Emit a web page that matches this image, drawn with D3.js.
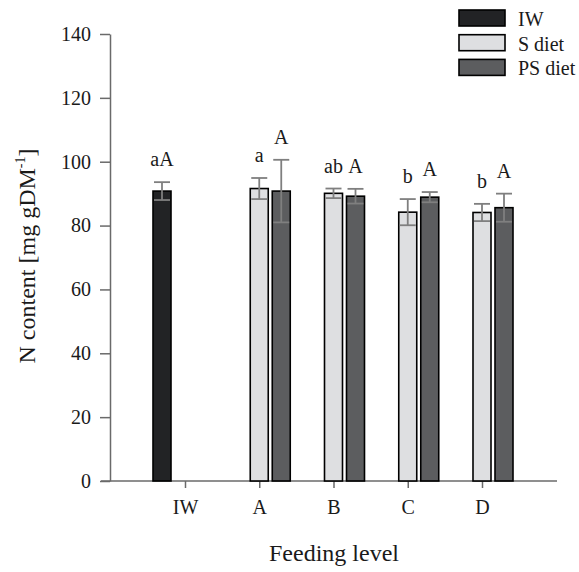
<!DOCTYPE html>
<html>
<head>
<meta charset="utf-8">
<script src="https://cdn.jsdelivr.net/npm/d3@7"></script>
<style>
  body { margin: 0; background: #fff; }
  text { font-family: "Liberation Serif", "Times New Roman", serif; fill: #1a1a1a; }
</style>
</head>
<body>
<script>
// data
var groups = ["IW", "A", "B", "C", "D"];
var series = ["IW", "S diet", "PS diet"];
var iwMean = [90.8];
var iwErr = [2.8];
var iwLetters = ["aA"];
var sMean = [null, 91.6, 90.1, 84.2, 84.1];
var sErr = [null, 3.3, 1.5, 4.1, 2.7];
var sLetters = [null, "a", "ab", "b", "b"];
var psMean = [null, 90.8, 89.2, 88.9, 85.6];
var psErr = [null, 9.8, 2.3, 1.6, 4.4];
var psLetters = [null, "A", "A", "A", "A"];
var yTicks = [0, 20, 40, 60, 80, 100, 120, 140];

var width = 579, height = 572;
var colors = {"IW": "#222325", "S diet": "#dedfe1", "PS diet": "#5c5d5f"};

var svg = d3.select("body").append("svg")
    .attr("width", width).attr("height", height);

var x = d3.scalePoint().domain(groups).range([185, 482]);
var y = d3.scaleLinear().domain([0, 140]).range([481, 34]);
var barW = 18;
// offset of each series from the group tick
var offset = {"IW": -23, "S diet": 0, "PS diet": 22};

// build one row per bar
var rows = [];
rows.push({g: "IW", s: "IW", mean: iwMean[0], err: iwErr[0], letter: iwLetters[0]});
groups.forEach(function(g, i) {
    if (sMean[i] != null) rows.push({g: g, s: "S diet", mean: sMean[i], err: sErr[i], letter: sLetters[i]});
    if (psMean[i] != null) rows.push({g: g, s: "PS diet", mean: psMean[i], err: psErr[i], letter: psLetters[i]});
});
function cx(d) { return x(d.g) + offset[d.s]; }

// axes
var yAxis = svg.append("g")
    .attr("transform", "translate(110,0)")
    .call(d3.axisLeft(y).tickValues(yTicks).tickSize(10).tickPadding(9).tickSizeOuter(0));
yAxis.selectAll("text").attr("font-size", "20px");

var xAxis = svg.append("g")
    .attr("transform", "translate(0,481)")
    .call(d3.axisBottom(x).tickSize(7).tickPadding(12).tickSizeOuter(0));
xAxis.select(".domain").attr("d", "M101,0H557");
xAxis.selectAll("text").attr("font-size", "20px");

svg.selectAll(".domain, .tick line").attr("stroke", "#6a6a6a").attr("stroke-width", 1.5);

// bars
svg.append("g").selectAll("rect")
    .data(rows).enter().append("rect")
    .attr("x", function(d) { return cx(d) - barW / 2; })
    .attr("y", function(d) { return y(d.mean); })
    .attr("width", barW)
    .attr("height", function(d) { return y(0) - y(d.mean); })
    .attr("fill", function(d) { return colors[d.s]; })
    .attr("stroke", "#000")
    .attr("stroke-width", 1.6);

// error bars
var eb = svg.append("g").attr("stroke", "#7f7f7f").attr("stroke-width", 1.8);
rows.forEach(function(d) {
    var c = cx(d);
    eb.append("line").attr("x1", c).attr("x2", c)
        .attr("y1", y(d.mean + d.err)).attr("y2", y(d.mean - d.err));
    [d.mean + d.err, d.mean - d.err].forEach(function(v) {
        eb.append("line").attr("x1", c - 8).attr("x2", c + 8)
            .attr("y1", y(v)).attr("y2", y(v));
    });
});

// significance letters
svg.append("g").selectAll("text")
    .data(rows).enter().append("text")
    .attr("x", cx)
    .attr("y", function(d) { return y(d.mean + d.err) - 16; })
    .attr("text-anchor", "middle")
    .attr("font-size", "20px")
    .text(function(d) { return d.letter; });

// axis titles
svg.append("text")
    .attr("x", 334).attr("y", 561)
    .attr("text-anchor", "middle")
    .attr("font-size", "24px")
    .text("Feeding level");

var yt = svg.append("text")
    .attr("transform", "translate(35,256) rotate(-90)")
    .attr("text-anchor", "middle")
    .attr("font-size", "24px");
yt.append("tspan").text("N content [mg gDM");
yt.append("tspan").attr("font-size", "14px").attr("dy", "-10").text("-1");
yt.append("tspan").attr("dy", "10").text("]");

// legend
var legend = svg.append("g").selectAll("g")
    .data(series).enter().append("g")
    .attr("transform", function(d, i) { return "translate(459," + (10 + i * 24.7) + ")"; });
legend.append("rect")
    .attr("width", 46).attr("height", 16)
    .attr("fill", function(d) { return colors[d]; })
    .attr("stroke", "#000").attr("stroke-width", 1.6);
legend.append("text")
    .attr("x", 59).attr("y", 16)
    .attr("font-size", "20px")
    .text(function(d) { return d; });
</script>
</body>
</html>
